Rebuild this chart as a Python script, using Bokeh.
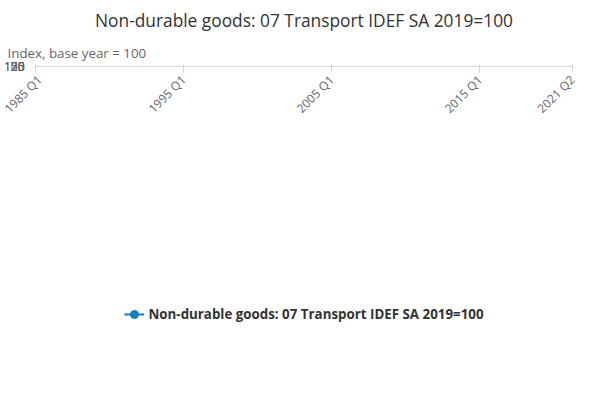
from bokeh.plotting import figure
from bokeh.models import Legend, LegendItem, FixedTicker, Title, Label
from bokeh.embed import file_html
from bokeh.resources import INLINE

series_name = "Non-durable goods: 07 Transport IDEF SA 2019=100"
values = [49, 47.5, 50, 51, 51, 52, 51.5, 52, 53, 56, 57, 60, 62, 63.5, 63, 64,
          62, 61, 60, 57.5, 57, 57.5, 57.5, 58.5, 62.5, 59.5, 59.5, 59, 62, 62, 63, 65.5,
          65.5, 66, 72.5, 72.5, 74, 76.5, 74.5, 68, 67, 74.5, 75.5, 83, 88.5, 91, 92, 76,
          73, 76.5, 82.5, 87.5, 91.5, 95, 95.5, 98.5, 106.5, 106, 106.5, 106.5, 108, 108, 106, 108,
          108.5, 106, 107, 105, 105, 103.5, 102.5, 98, 89.5, 92, 88.5, 85, 82, 85, 86.5, 90,
          96, 90, 90, 93, 98, 98, 101, 99.5, 98, 100, 100.5, 101.5, 100.5, 83.5, 86.5, 88, 98, 99]
end_year, end_q = 2021, 2
n = len(values)
end_idx = end_year * 4 + (end_q - 1)
xs = [(end_idx - n + 1 + i) / 4 for i in range(n)]
tick_labels = {1985.0: "1985 Q1", 1995.0: "1995 Q1", 2005.0: "2005 Q1", 2015.0: "2015 Q1", 2021.25: "2021 Q2"}

p = figure(width=584, height=384, output_backend="svg", toolbar_location=None,
           x_range=(1985, 2021.25), y_range=(0, 125), min_border_left=10, min_border_right=12,
           min_border_bottom=10, min_border_top=5)
p.add_layout(Title(text="Index, base year = 100", text_font_size="10pt", text_color="#666666",
                   text_font_style="normal", text_font="Open Sans", offset=-28), "above")
p.add_layout(Title(text="Non-durable goods: 07 Transport IDEF SA 2019=100", text_font_size="13pt",
                   align="center", text_font_style="normal", text_font="Open Sans", text_color="#333333"), "above")
r = p.line(xs, values, line_color="#0f7ec1", line_width=2)
c = p.scatter(xs, values, size=4, color="#0f7ec1")
leg = Legend(items=[LegendItem(label=series_name, renderers=[r, c])], location="center",
             orientation="horizontal", border_line_color=None, label_text_font_style="bold",
             label_text_font_size="10pt", label_text_color="#333333", label_text_font="Open Sans",
             margin=14, padding=4)
p.add_layout(leg, "below")
p.add_layout(Label(x=584 - 47, y=-88, x_units="screen", y_units="screen", text="Source:",
                   text_font_size="10pt", text_color="#666666", text_font="Open Sans"))
p.xaxis.ticker = FixedTicker(ticks=list(tick_labels.keys()))
p.xaxis.major_label_overrides = tick_labels
p.xaxis.major_label_orientation = 0.785
p.yaxis.ticker = FixedTicker(ticks=[0, 25, 50, 75, 100, 125])
p.xgrid.grid_line_color = None
p.ygrid.grid_line_color = "#e6e6e6"
p.yaxis.axis_line_color = None
p.yaxis.major_tick_line_color = None
p.yaxis.minor_tick_line_color = None
p.xaxis.minor_tick_line_color = None
p.xaxis.axis_line_color = "#ccd6eb"
p.xaxis.major_tick_line_color = "#ccd6eb"
p.axis.major_label_text_color = "#666666"
p.axis.major_label_text_font = "Open Sans"
p.axis.major_label_text_font_size = "9pt"
p.outline_line_color = None
open("out.html", "w").write(file_html(p, INLINE))
